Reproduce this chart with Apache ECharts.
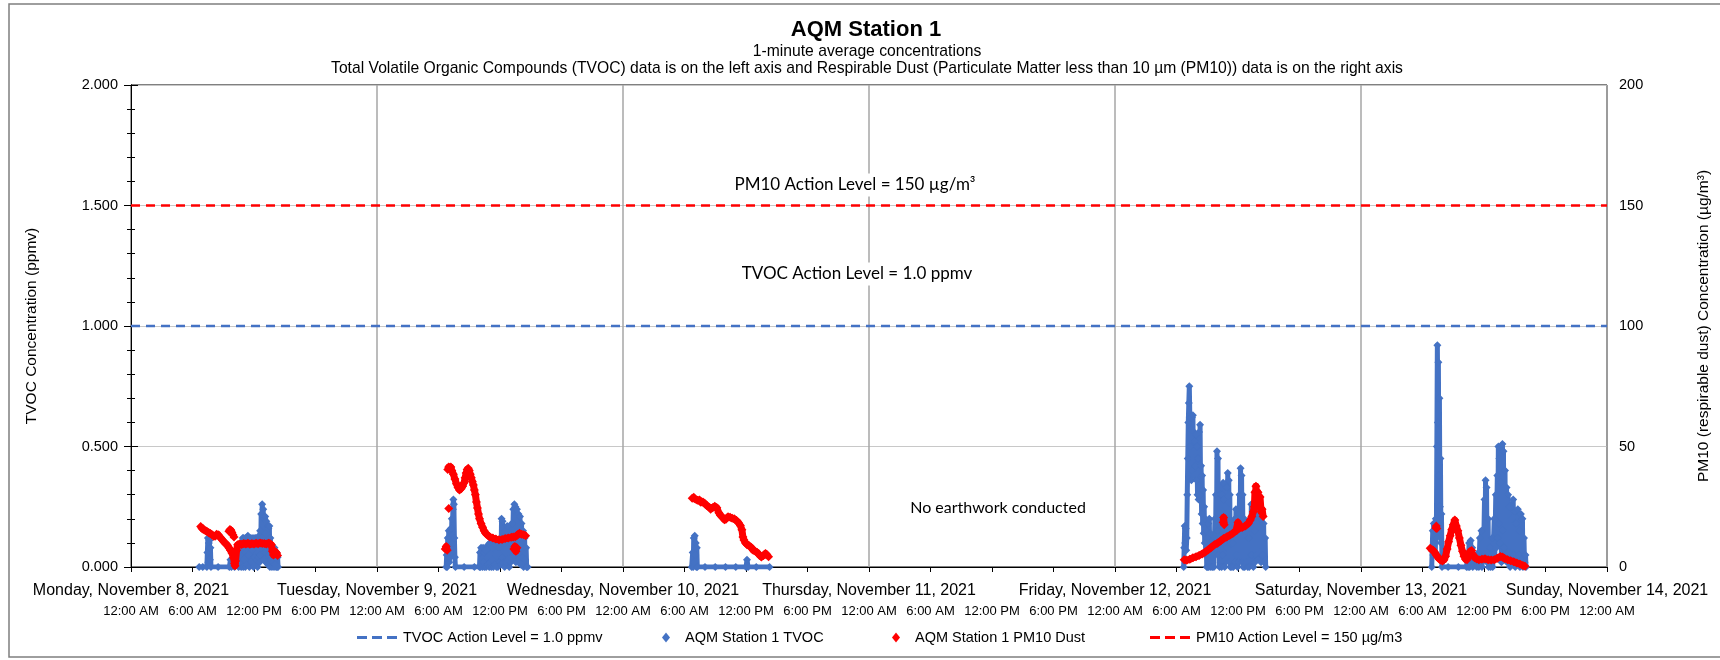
<!DOCTYPE html>
<html><head><meta charset="utf-8">
<script src="https://cdn.jsdelivr.net/npm/echarts@6/dist/echarts.min.js"></script>
<style>html,body{margin:0;padding:0;background:#fff}#c{width:1720px;height:660px}</style>
</head><body><div id="c"></div>
<script>
// ---------- DATA ----------
// x values are hours after Monday, November 8, 2021 12:00 AM
const dayLabels = ['Monday, November 8, 2021','Tuesday, November 9, 2021','Wednesday, November 10, 2021','Thursday, November 11, 2021','Friday, November 12, 2021','Saturday, November 13, 2021','Sunday, November 14, 2021'];
const timeLabels = ['12:00 AM','6:00 AM','12:00 PM','6:00 PM'];
const xStartHour = 0, xEndHour = 144;
const tvocActionLevel = 1.0;   // ppmv
const pm10ActionLevel = 150;   // ug/m3

// AQM Station 1 TVOC (ppmv)
const tvocNov8 = [[6.65,0],[7.0,0],[7.4,0],[7.45,0.06],[7.5,0.12],[7.55,0.02],[7.6,0.1],[7.65,0.11],[7.7,0.03],[7.75,0.08],[7.8,0],[8.5,0],[9.6,0],[9.7,0.03],[9.8,0],[10.0,0.04],[10.1,0],[10.3,0.02],[10.5,0],[10.7,0.05],[10.75,0],[10.8,0.1],[10.85,0.02],[10.9,0.12],[10.95,0],[11.0,0.12],[11.05,0.03],[11.1,0.11],[11.15,0],[11.2,0.12],[11.25,0.04],[11.3,0.11],[11.35,0.01],[11.4,0.13],[11.45,0.05],[11.5,0.12],[11.55,0],[11.6,0.11],[11.65,0.06],[11.7,0.12],[11.75,0.02],[11.8,0.1],[11.85,0.07],[11.9,0.12],[11.95,0],[12.0,0.11],[12.05,0.04],[12.1,0.12],[12.15,0.01],[12.2,0.12],[12.25,0.03],[12.3,0.11],[12.35,0],[12.4,0.12],[12.45,0.04],[12.5,0.13],[12.55,0.02],[12.6,0.15],[12.65,0.05],[12.7,0.22],[12.75,0.1],[12.8,0.26],[12.85,0.12],[12.9,0.24],[12.95,0.03],[13.0,0.2],[13.05,0.06],[13.1,0.21],[13.15,0.02],[13.2,0.19],[13.25,0.08],[13.3,0.17],[13.35,0.01],[13.4,0.16],[13.45,0.05],[13.5,0.17],[13.55,0],[13.6,0.12],[13.65,0.03],[13.7,0.08],[13.75,0],[13.8,0.07],[13.85,0.02],[13.9,0.06],[13.95,0],[14.0,0.08],[14.05,0.01],[14.1,0.05],[14.15,0],[14.2,0.06],[14.25,0],[14.3,0.04],[14.35,0]];
const tvocNov9 = [[30.75,0],[30.8,0.05],[30.85,0],[30.9,0.12],[30.95,0.03],[31.0,0.15],[31.05,0.02],[31.1,0.1],[31.15,0.04],[31.2,0.16],[31.25,0.06],[31.3,0.2],[31.35,0.1],[31.4,0.24],[31.45,0.28],[31.5,0.26],[31.55,0.12],[31.6,0.04],[31.65,0],[32.5,0],[33.5,0],[34.0,0],[34.05,0.06],[34.1,0],[34.15,0.08],[34.2,0.01],[34.25,0.07],[34.3,0],[34.35,0.08],[34.4,0.02],[34.45,0.06],[34.5,0],[34.6,0.07],[34.65,0],[34.8,0.09],[34.85,0.01],[34.9,0.08],[34.95,0],[35.0,0.1],[35.05,0.02],[35.1,0.09],[35.15,0],[35.2,0.1],[35.25,0.03],[35.3,0.08],[35.35,0],[35.45,0.1],[35.5,0.01],[35.6,0.09],[35.65,0],[35.75,0.06],[35.8,0],[35.9,0.08],[35.95,0.02],[36.05,0.12],[36.1,0.01],[36.15,0.2],[36.2,0.04],[36.25,0.19],[36.3,0.02],[36.4,0.1],[36.45,0],[36.55,0.15],[36.6,0.02],[36.7,0.17],[36.75,0.03],[36.85,0.14],[36.9,0],[37.0,0.1],[37.05,0.02],[37.15,0.18],[37.2,0.03],[37.3,0.24],[37.35,0.05],[37.4,0.26],[37.45,0.08],[37.5,0.25],[37.55,0.02],[37.65,0.24],[37.7,0.06],[37.8,0.22],[37.85,0.03],[37.95,0.21],[38.0,0.01],[38.1,0.18],[38.15,0.04],[38.25,0.15],[38.3,0],[38.4,0.12],[38.45,0.03],[38.55,0.08],[38.6,0],[38.7,0]];
const tvocNov10 = [[54.7,0],[54.8,0.06],[54.85,0],[54.9,0.12],[54.95,0.02],[55.0,0.13],[55.05,0.05],[55.1,0.1],[55.15,0],[55.2,0.08],[55.25,0],[56.0,0],[57.0,0],[58.0,0],[59.0,0],[60.0,0],[60.1,0.03],[60.2,0],[61.0,0],[62.3,0]];
const tvocNov12 = [[102.7,0],[102.75,0.08],[102.8,0.17],[102.85,0.1],[102.9,0.16],[102.95,0.07],[103.0,0.12],[103.05,0.3],[103.1,0.45],[103.15,0.6],[103.2,0.68],[103.25,0.75],[103.3,0.62],[103.35,0.5],[103.4,0.57],[103.45,0.36],[103.5,0.62],[103.55,0.4],[103.6,0.63],[103.65,0.45],[103.7,0.56],[103.75,0.38],[103.8,0.52],[103.85,0.42],[103.9,0.55],[103.95,0.36],[104.0,0.5],[104.05,0.3],[104.1,0.45],[104.15,0.28],[104.2,0.56],[104.25,0.3],[104.3,0.59],[104.35,0.33],[104.4,0.42],[104.45,0.22],[104.5,0.38],[104.55,0.18],[104.6,0.32],[104.65,0.14],[104.7,0.25],[104.75,0.1],[104.8,0.2],[104.85,0.05],[104.9,0.15],[104.95,0],[105.0,0.12],[105.05,0],[105.1,0.18],[105.15,0],[105.2,0.2],[105.25,0.02],[105.3,0.14],[105.35,0],[105.45,0.08],[105.5,0],[105.6,0.1],[105.65,0],[105.75,0.2],[105.8,0.05],[105.85,0.3],[105.9,0.1],[105.95,0.48],[106.0,0.15],[106.05,0.45],[106.1,0.05],[106.15,0.34],[106.2,0],[106.25,0.3],[106.3,0.02],[106.35,0.22],[106.4,0],[106.45,0.3],[106.5,0.05],[106.55,0.35],[106.6,0.1],[106.65,0.28],[106.7,0],[106.75,0.25],[106.8,0.03],[106.9,0.33],[106.95,0.08],[107.0,0.39],[107.05,0.12],[107.1,0.36],[107.15,0.02],[107.2,0.3],[107.25,0],[107.35,0.15],[107.4,0],[107.5,0.1],[107.55,0],[107.7,0.2],[107.75,0.02],[107.8,0.24],[107.85,0.05],[107.9,0.2],[107.95,0],[108.0,0.15],[108.05,0.02],[108.15,0.3],[108.2,0.05],[108.25,0.41],[108.3,0.1],[108.35,0.38],[108.4,0.02],[108.45,0.3],[108.5,0],[108.6,0.2],[108.65,0],[108.75,0.15],[108.8,0.02],[108.9,0.18],[108.95,0],[109.05,0.12],[109.1,0],[109.2,0.2],[109.25,0.03],[109.3,0.26],[109.35,0.05],[109.45,0.22],[109.5,0],[109.6,0.15],[109.65,0.02],[109.75,0.24],[109.8,0.05],[109.9,0.22],[109.95,0.03],[110.05,0.25],[110.1,0.06],[110.2,0.2],[110.25,0.02],[110.35,0.22],[110.4,0.05],[110.5,0.18],[110.55,0.02],[110.65,0.12],[110.7,0]];
const tvocNov13 = [[126.9,0],[126.95,0.08],[127.0,0.15],[127.05,0.05],[127.1,0.18],[127.15,0.1],[127.2,0.17],[127.25,0.06],[127.3,0.2],[127.35,0.12],[127.4,0.5],[127.45,0.92],[127.5,0.6],[127.55,0.85],[127.6,0.38],[127.65,0.7],[127.7,0.25],[127.75,0.45],[127.8,0.1],[127.85,0.22],[127.9,0],[128.5,0],[129.5,0],[130.3,0],[130.4,0.05],[130.45,0],[130.55,0.1],[130.6,0],[130.7,0.11],[130.75,0.02],[130.85,0.08],[130.9,0],[131.3,0],[131.45,0.06],[131.5,0],[131.6,0.12],[131.65,0.02],[131.75,0.15],[131.8,0],[131.9,0.1],[131.95,0.03],[132.05,0.28],[132.1,0.05],[132.15,0.36],[132.2,0.1],[132.25,0.33],[132.3,0.02],[132.4,0.2],[132.45,0],[132.6,0.08],[132.65,0],[132.8,0.12],[132.85,0],[133.0,0.2],[133.05,0.04],[133.15,0.3],[133.2,0.08],[133.3,0.38],[133.35,0.12],[133.4,0.5],[133.45,0.18],[133.5,0.45],[133.55,0.1],[133.65,0.35],[133.7,0.02],[133.8,0.51],[133.85,0.15],[133.9,0.48],[133.95,0.08],[134.05,0.4],[134.1,0.05],[134.2,0.33],[134.25,0.02],[134.35,0.3],[134.4,0.06],[134.5,0.25],[134.55,0],[134.7,0.2],[134.75,0.02],[134.85,0.28],[134.9,0.05],[135.0,0.23],[135.05,0],[135.15,0.18],[135.2,0.02],[135.3,0.24],[135.35,0.05],[135.45,0.15],[135.5,0],[135.6,0.22],[135.65,0.03],[135.75,0.2],[135.8,0],[135.9,0.12],[135.95,0.02],[136.05,0.05],[136.1,0]];

// AQM Station 1 PM10 Dust (ug/m3)
const pm10Nov8 = [[6.8,16.8],[6.9,16.2],[7.0,15.8],[7.15,15.4],[7.3,15.0],[7.45,14.6],[7.6,14.2],[7.75,13.9],[7.9,13.4],[8.05,12.8],[8.2,12.8],[8.35,13.6],[8.5,13.4],[8.65,12.6],[8.8,11.8],[8.95,11.0],[9.1,10.3],[9.25,9.6],[9.4,9.0],[9.55,8.0],[9.7,7.0],[9.85,5.8],[10.0,3.8],[10.1,1.5],[10.15,0.5],[10.2,2.5],[10.3,7.0],[10.4,9.2],[10.6,9.6],[10.8,9.3],[11.0,9.8],[11.2,9.5],[11.4,9.9],[11.6,9.4],[11.8,9.7],[12.0,9.5],[12.2,9.9],[12.4,9.6],[12.6,10.0],[12.8,9.7],[13.0,9.8],[13.2,9.5],[13.4,9.9],[13.55,9.8],[13.7,9.2],[13.8,6.5],[13.9,5.0],[14.0,5.6],[14.1,6.3],[14.2,5.8],[14.3,4.8]];
const pm10Nov8b = [[9.55,14.8],[9.65,15.6],[9.75,15.2],[9.85,14.3],[9.95,13.3],[10.05,12.4]];
const pm10Nov9a = [[30.65,7.5],[30.75,8.5],[30.85,7.0]];
const pm10Nov9b = [[31.0,24.3]];
const pm10Nov9 = [[30.9,40.5],[31.0,41.5],[31.1,40.8],[31.2,41.5],[31.3,40.0],[31.45,38.5],[31.6,36.5],[31.75,34.5],[31.9,33.0],[32.05,32.0],[32.2,32.5],[32.35,33.5],[32.5,35.0],[32.6,37.0],[32.7,39.0],[32.8,40.5],[32.9,41.0],[33.0,40.0],[33.1,38.5],[33.2,37.0],[33.3,35.5],[33.4,34.0],[33.5,32.0],[33.6,30.0],[33.7,27.0],[33.8,24.5],[33.9,22.0],[34.0,20.0],[34.15,18.0],[34.3,16.5],[34.45,15.0],[34.6,14.0],[34.8,13.2],[35.0,12.5],[35.3,12.0],[35.6,11.6],[35.9,11.3],[36.2,11.4],[36.5,11.8],[36.8,12.0],[37.1,12.3],[37.3,12.5],[37.5,12.6],[37.7,13.3],[37.9,14.0],[38.1,13.6],[38.3,13.4],[38.5,13.0]];
const pm10Nov9c = [[37.35,7.5],[37.45,8.5],[37.55,6.5],[37.65,8.0]];
const pm10Nov10 = [[54.75,28.5],[54.9,28.9],[55.05,28.2],[55.25,27.7],[55.45,27.8],[55.6,26.9],[55.8,27.0],[56.0,26.2],[56.2,25.4],[56.4,24.8],[56.55,24.0],[56.75,24.6],[56.95,25.2],[57.15,24.6],[57.35,22.5],[57.5,21.5],[57.7,20.6],[57.9,19.6],[58.05,19.8],[58.25,20.8],[58.45,20.6],[58.65,20.2],[58.85,20.0],[59.05,19.3],[59.25,18.5],[59.45,17.2],[59.6,15.5],[59.7,12.5],[59.8,11.2],[59.95,10.0],[60.1,9.2],[60.3,8.8],[60.5,8.2],[60.7,7.0],[60.9,6.5],[61.1,6.0],[61.3,5.0],[61.5,4.2],[61.7,4.8],[61.9,5.6],[62.05,5.0],[62.2,4.3]];
const pm10Nov12 = [[102.75,3.0],[103.0,2.8],[103.3,3.2],[103.6,3.8],[103.9,4.3],[104.2,4.8],[104.5,5.4],[104.8,6.2],[105.1,7.2],[105.4,8.2],[105.7,9.2],[106.0,9.9],[106.3,10.8],[106.6,11.8],[106.9,12.5],[107.2,13.2],[107.5,14.0],[107.8,15.0],[107.9,15.3],[108.0,18.5],[108.1,16.0],[108.4,16.4],[108.7,17.0],[109.0,18.0],[109.2,19.5],[109.35,21.0],[109.5,23.0],[109.6,25.0],[109.65,31.0],[109.7,27.0],[109.75,33.5],[109.85,28.0],[109.95,31.0],[110.05,26.0],[110.15,29.0],[110.25,23.0],[110.35,24.0],[110.45,21.0]];
const pm10Nov12b = [[106.55,18.5],[106.6,20.5],[106.65,17.5]];
const pm10Nov13 = [[126.75,7.8],[126.9,7.2],[127.05,6.8],[127.2,6.0],[127.35,5.0],[127.5,4.0],[127.65,3.2],[127.8,2.8],[127.95,2.5],[128.1,3.0],[128.25,4.5],[128.4,7.5],[128.55,10.5],[128.7,13.0],[128.85,15.5],[129.0,17.5],[129.15,19.5],[129.3,17.0],[129.45,15.0],[129.6,12.0],[129.75,9.0],[129.9,6.5],[130.05,4.5],[130.2,3.2],[130.35,3.0],[130.5,4.5],[130.65,6.5],[130.8,6.8],[130.95,5.0],[131.1,3.8],[131.3,3.3],[131.5,3.0],[131.8,3.2],[132.1,3.4],[132.4,3.0],[132.7,2.9],[133.0,3.0],[133.3,3.6],[133.6,4.4],[133.8,4.2],[134.0,3.5],[134.3,3.0],[134.6,2.6],[134.9,2.2],[135.2,1.7],[135.5,1.2],[135.8,0.6],[136.0,0.3]];
const pm10Nov13b = [[127.3,16.2],[127.35,17.0],[127.4,16.0]];

const tvocSegments = [tvocNov8, tvocNov9, tvocNov10, tvocNov12, tvocNov13];
const pm10Segments = [pm10Nov8, pm10Nov8b, pm10Nov9a, pm10Nov9b, pm10Nov9, pm10Nov9c, pm10Nov10, pm10Nov12, pm10Nov12b, pm10Nov13, pm10Nov13b];

// ---------- CHART ----------
const FONT = '"Liberation Sans", Arial, sans-serif';
const NOTE_FONT = 'Lato, "Open Sans", sans-serif';
const BLUE = '#4472C4', RED = '#FF0000';
const N_TVOC = 'AQM Station 1 TVOC', N_PM = 'AQM Station 1 PM10 Dust';
const N_TAL = 'TVOC Action Level = 1.0 ppmv', N_PAL = 'PM10 Action Level = 150 µg/m3';
const DASH_ICON = 'path://M0,0H10V3H0Z M15,0H25V3H15Z M30,0H40V3H30Z';

const chart = echarts.init(document.getElementById('c'), null, {renderer: 'canvas'});

const series = [];
series.push({name: N_TAL, type: 'line', xAxisIndex: 0, yAxisIndex: 0, symbol: 'none',
  data: [[xStartHour, tvocActionLevel], [xEndHour, tvocActionLevel]],
  lineStyle: {color: BLUE, width: 2.5, type: [9, 6]}, itemStyle: {color: BLUE}, z: 2, silent: true});
tvocSegments.forEach(d => series.push({name: N_TVOC, type: 'line', xAxisIndex: 0, yAxisIndex: 0, data: d,
  symbol: 'diamond', symbolSize: 8, showSymbol: true, showAllSymbol: true,
  lineStyle: {color: BLUE, width: 5, join: 'round'}, itemStyle: {color: BLUE}, z: 3, silent: true}));
pm10Segments.forEach(d => series.push({name: N_PM, type: 'line', xAxisIndex: 0, yAxisIndex: 1, data: d,
  symbol: 'diamond', symbolSize: 9, showSymbol: true, showAllSymbol: true,
  lineStyle: {color: RED, width: 7, join: 'round'}, itemStyle: {color: RED}, z: 4, silent: true}));
series.push({name: N_PAL, type: 'line', xAxisIndex: 0, yAxisIndex: 1, symbol: 'none',
  data: [[xStartHour, pm10ActionLevel], [xEndHour, pm10ActionLevel]],
  lineStyle: {color: RED, width: 2.5, type: [9, 6]}, itemStyle: {color: RED}, z: 2, silent: true});

const legendText = {fontFamily: FONT, fontSize: 14.5, color: '#000'};
function mkLegend(name, left, icon, w, h, pad) {
  return {data: [{name: name, icon: icon}], left: left, top: 630, orient: 'horizontal', selectedMode: false,
    itemWidth: w, itemHeight: h, itemGap: 0, padding: 0,
    textStyle: Object.assign({padding: [0, 0, 0, pad]}, legendText)};
}

chart.setOption({
  animation: false,
  backgroundColor: '#fff',
  grid: {left: 131, right: 107, top: 85, bottom: 93, show: true, borderColor: '#000', borderWidth: 1, backgroundColor: 'transparent'},
  xAxis: [
    {type: 'value', min: xStartHour, max: xEndHour, interval: 6, position: 'bottom',
      axisLine: {show: true, onZero: false, lineStyle: {color: '#000', width: 1}},
      axisTick: {show: true, inside: false, length: 5, lineStyle: {color: '#000'}},
      axisLabel: {margin: 37.5, fontFamily: FONT, fontSize: 13, color: '#000',
        formatter: v => timeLabels[Math.round(v / 6) % 4], showMinLabel: true, showMaxLabel: true},
      splitLine: {show: false}},
    {type: 'value', min: xStartHour, max: xEndHour, interval: 24, position: 'bottom',
      axisLine: {show: false, onZero: false}, axisTick: {show: false},
      axisLabel: {margin: 15.5, fontFamily: FONT, fontSize: 16, color: '#000',
        formatter: v => dayLabels[Math.round(v / 24)], showMinLabel: true, showMaxLabel: true},
      splitLine: {show: true, lineStyle: {color: '#a6a6a6', width: 1.5}}}
  ],
  yAxis: [
    {type: 'value', min: 0, max: 2, interval: 0.5, position: 'left',
      name: 'TVOC Concentration (ppmv)', nameLocation: 'middle', nameRotate: 90, nameGap: 91,
      nameTextStyle: {fontFamily: FONT, fontSize: 15.5, color: '#000'},
      axisLine: {show: true, lineStyle: {color: '#000'}},
      axisTick: {show: true, length: 7, lineStyle: {color: '#000'}},
      minorTick: {show: true, splitNumber: 5, length: 4, lineStyle: {color: '#000'}},
      axisLabel: {margin: 13, fontFamily: FONT, fontSize: 14.5, color: '#000', formatter: v => v.toFixed(3)},
      splitLine: {show: true, lineStyle: {color: '#c8c8c8', width: 1}}},
    {type: 'value', min: 0, max: 200, interval: 50, position: 'right',
      name: 'PM10 (respirable dust) Concentration (µg/m³)', nameLocation: 'middle', nameRotate: 90, nameGap: 89,
      nameTextStyle: {fontFamily: FONT, fontSize: 15.5, color: '#000'},
      axisLine: {show: true, lineStyle: {color: '#000'}},
      axisTick: {show: true, length: 7, lineStyle: {color: '#000'}},
      minorTick: {show: true, splitNumber: 5, length: 4, lineStyle: {color: '#000'}},
      axisLabel: {margin: 12, fontFamily: FONT, fontSize: 14.5, color: '#000'},
      splitLine: {show: false}}
  ],
  legend: [
    mkLegend(N_TAL, 357, DASH_ICON, 42, 3, 0),
    mkLegend(N_TVOC, 662, 'diamond', 8, 10, 10),
    mkLegend(N_PM, 892, 'diamond', 8, 10, 10),
    mkLegend(N_PAL, 1150, DASH_ICON, 42, 3, 0)
  ],
  series: series,
  graphic: [
    {type: 'rect', silent: true, shape: {x: 9, y: 4, width: 1720, height: 653}, style: {fill: 'none', stroke: '#7f7f7f', lineWidth: 1.5}, z: -10},
    {type: 'text', x: 866, y: 30, style: {text: 'AQM Station 1', font: 'bold 22px ' + FONT, fill: '#000', align: 'center', verticalAlign: 'middle'}},
    {type: 'text', x: 867, y: 52, style: {text: '1-minute average concentrations', font: '15.7px ' + FONT, fill: '#000', align: 'center', verticalAlign: 'middle'}},
    {type: 'text', x: 867, y: 68.5, style: {text: 'Total Volatile Organic Compounds (TVOC) data is on the left axis and Respirable Dust (Particulate Matter less than 10 µm (PM10)) data is on the right axis', font: '15.7px ' + FONT, fill: '#000', align: 'center', verticalAlign: 'middle'}},
    {type: 'text', x: 855, y: 185, z: 10, style: {text: 'PM10 Action Level = 150 µg/m³', font: '17px ' + NOTE_FONT, fill: '#000', align: 'center', verticalAlign: 'middle', backgroundColor: '#fff', padding: [3, 4]}},
    {type: 'text', x: 857, y: 274, z: 10, style: {text: 'TVOC Action Level = 1.0 ppmv', font: '17px ' + NOTE_FONT, fill: '#000', align: 'center', verticalAlign: 'middle', backgroundColor: '#fff', padding: [3, 4]}},
    {type: 'text', x: 998, y: 508, z: 10, style: {text: 'No earthwork conducted', font: '16px ' + NOTE_FONT, fill: '#000', align: 'center', verticalAlign: 'middle'}}
  ]
});
</script></body></html>
